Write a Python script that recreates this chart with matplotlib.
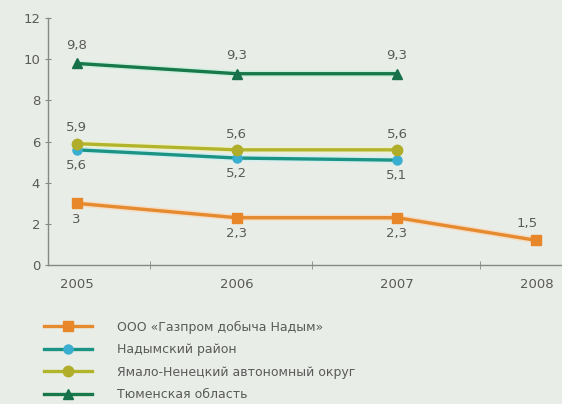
import matplotlib.pyplot as plt

years = ["2005", "2006", "2007", "2008"]
xpos = [0, 1, 2, 2.87]

gazprom = [3, 2.3, 2.3, 1.2]
gazprom_lbl = ["3", "2,3", "2,3", "1,5"]
nadym = [5.6, 5.2, 5.1]
nadym_lbl = ["5,6", "5,2", "5,1"]
yamal = [5.9, 5.6, 5.6]
yamal_lbl = ["5,9", "5,6", "5,6"]
tyumen = [9.8, 9.3, 9.3]
tyumen_lbl = ["9,8", "9,3", "9,3"]

names = [
    "ООО «Газпром добыча Надым»",
    "Надымский район",
    "Ямало-Ненецкий автономный округ",
    "Тюменская область",
]

bg = "#e9ede7"
txt = "#5a5a5a"

fig = plt.figure(figsize=(5.62, 4.04), dpi=100, facecolor=bg)
ax = fig.add_axes([0.085, 0.344, 0.915, 0.611], facecolor=bg)


def line(x, y, color, mfc, marker, ms, label, halo):
    # light halo under the line, then the line with its markers
    ax.plot(x, y, color=halo, lw=4.5, zorder=2, solid_capstyle="butt")
    ax.plot(x, y, color=color, lw=2.4, marker=marker, ms=ms,
            mfc=mfc, mec=mfc, label=label, zorder=3)


line(xpos, gazprom, "#e58a2e", "#e8872a", "s", 6.5, names[0], "#f5dcc2")
line(xpos[:3], nadym, "#1c9485", "#3aaed0", "o", 6.5, names[1], "#d2eeee")
line(xpos[:3], yamal, "#b2b52c", "#b0ad2a", "o", 7.5, names[2], "#eef0cc")
line(xpos[:3], tyumen, "#17784a", "#16704a", "^", 7.5, names[3], "#cdeedc")

fs = 9.5
for i, v in enumerate(tyumen):
    ax.text(xpos[i], v + 0.55, tyumen_lbl[i], ha="center", va="bottom", fontsize=fs, color=txt)
for i, v in enumerate(yamal):
    ax.text(xpos[i], v + 0.45, yamal_lbl[i], ha="center", va="bottom", fontsize=fs, color=txt)
for i, v in enumerate(nadym):
    ax.text(xpos[i], v - 0.45, nadym_lbl[i], ha="center", va="top", fontsize=fs, color=txt)
for i, v in enumerate(gazprom[:3]):
    ax.text(xpos[i], v - 0.45, gazprom_lbl[i], ha="center", va="top", fontsize=fs, color=txt)
ax.text(xpos[3] - 0.06, gazprom[3] + 0.5, gazprom_lbl[3], ha="center", va="bottom", fontsize=fs, color=txt)

ax.set_xlim(-0.18, 3.03)
ax.set_ylim(0, 12)
ax.set_yticks(range(0, 13, 2))
ax.set_xticks(xpos)
ax.set_xticklabels(years)
ax.set_xticks([0.46, 1.47, 2.52], minor=True)
ax.tick_params(axis="x", which="major", length=0, pad=9, labelsize=fs, labelcolor=txt)
ax.tick_params(axis="x", which="minor", length=6, direction="inout", color="#888888")
ax.tick_params(axis="y", length=5, direction="inout", labelsize=fs, labelcolor=txt, color="#888888", pad=3)

for s in ["top", "right"]:
    ax.spines[s].set_visible(False)
for s in ["left", "bottom"]:
    ax.spines[s].set_color("#888888")
    ax.spines[s].set_linewidth(1)

fig.legend(loc="upper left", bbox_to_anchor=(0.068, 0.222), frameon=False,
           fontsize=9, labelcolor=txt, handlelength=3.8, handletextpad=2.0,
           labelspacing=0.76, borderpad=0)

fig.savefig("out.png", dpi=100, facecolor=bg)
